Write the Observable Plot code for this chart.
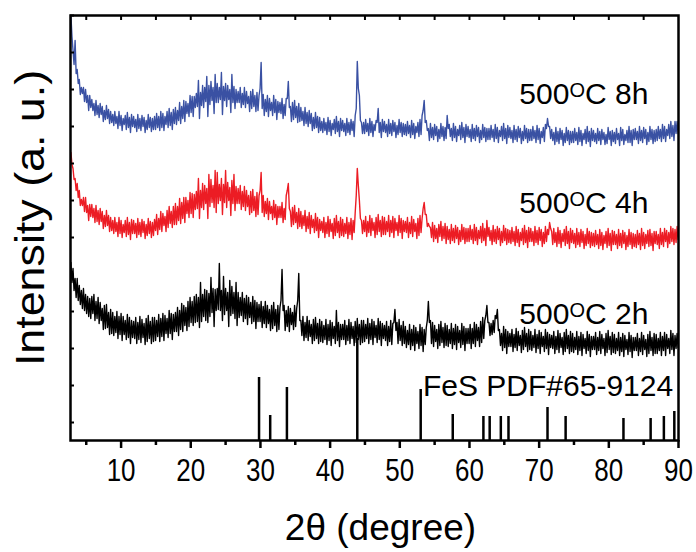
<!DOCTYPE html>
<html><head><meta charset="utf-8">
<script src="https://cdn.jsdelivr.net/npm/d3@7"></script>
<script src="https://cdn.jsdelivr.net/npm/@observablehq/plot@0.6"></script>
<style>body{margin:0;background:#fff}#chart svg{display:block}</style>
</head><body><div id="chart"></div>
<script>
// XRD scan: upper and lower edge of the noise band,
// upper readings at 2.8° + k·0.3°, lower readings half a step later.
const scanStart = 2.8, scanStep = 0.3;

const upper8h = [
425,390,400,371,361,353,353,351,345,345,
341,337,340,335,337,334,330,335,331,329,
326,329,324,329,325,322,325,328,323,326,
324,321,326,322,325,323,320,326,323,322,
324,327,324,329,327,324,329,332,328,331,
333,330,338,334,340,339,337,345,344,344,
347,360,348,355,353,364,355,359,353,366,
357,353,368,354,357,355,351,366,354,351,
349,353,347,353,349,344,349,351,345,348,
345,378,346,341,345,342,338,345,341,339,
338,342,336,342,359,334,338,340,334,337,
333,329,333,328,330,327,323,328,324,323,
319,322,318,323,320,317,321,324,319,322,
320,317,322,318,321,319,325,379,345,318,
318,321,317,322,319,316,320,332,318,321,
319,316,321,317,320,318,315,321,318,317,
316,319,315,320,317,314,318,321,325,340,
320,312,317,313,316,314,311,317,314,313,
325,316,312,317,314,311,315,318,313,316,
314,311,316,312,315,313,310,316,313,312,
312,315,311,316,313,310,314,317,312,315,
313,310,315,311,314,312,309,315,312,311,
311,314,310,315,312,309,313,316,322,314,
311,308,313,309,312,310,307,313,310,309,
309,312,308,313,310,307,311,314,309,312,
310,307,312,309,311,308,306,313,309,310,
308,312,307,313,311,306,310,314,310,311,
312,309,314,310,313,311,308,314,311,310,
311,314,311,316,314,311,316,319,315,319,319];
const lower8h = [
404,376,367,357,346,347,339,338,330,333,
330,325,326,323,326,319,321,322,317,318,
315,317,312,315,310,316,311,313,308,314,
313,309,312,310,314,308,311,313,309,311,
311,313,310,313,310,316,313,315,311,317,
316,320,317,322,319,327,324,328,324,333,
334,322,335,333,339,324,336,340,327,338,
338,341,326,340,334,341,328,338,332,338,
338,333,336,333,337,329,332,334,329,330,
352,332,325,329,324,330,325,328,321,328,
327,322,325,342,333,319,321,323,318,319,
320,315,317,314,317,310,312,313,308,310,
308,310,306,309,305,311,307,309,304,310,
309,305,308,306,310,304,332,352,320,307,
307,309,305,308,304,310,318,308,303,309,
308,304,307,305,309,303,306,308,304,306,
305,307,303,306,302,308,304,306,330,318,
310,300,303,301,305,299,302,304,300,302,
312,304,300,303,299,305,301,303,298,304,
303,299,302,300,304,298,301,303,299,301,
301,303,299,302,298,304,300,302,297,303,
302,298,301,299,303,297,300,302,298,300,
300,302,298,301,297,303,299,312,314,302,
300,296,299,297,301,295,298,300,296,298,
298,300,296,299,295,301,297,299,294,300,
299,297,300,296,301,296,297,301,295,299,
297,301,295,300,296,300,298,298,295,301,
301,297,300,298,302,296,299,301,297,299,
300,302,299,302,299,305,302,304,300,307,307];

const upper4h = [
288,272,262,257,250,241,243,243,235,236,
236,232,235,230,232,229,225,230,225,223,
220,223,218,223,220,216,220,223,218,221,
220,217,222,218,221,219,216,222,219,218,
221,226,222,229,227,224,230,234,229,234,
237,234,242,238,243,243,240,248,247,246,
249,262,250,257,255,252,266,261,255,270,
268,256,262,256,270,258,253,260,266,254,
252,255,249,254,250,245,249,251,244,248,
245,268,245,239,242,239,234,240,236,234,
234,238,232,245,257,229,233,235,228,232,
229,225,230,224,228,225,221,227,223,221,
219,223,218,224,221,217,222,225,219,223,
221,217,223,218,222,220,228,272,240,220,
220,224,219,225,222,218,223,226,220,224,
223,219,225,220,224,222,218,225,222,220,
219,223,218,224,221,217,222,225,222,238,
226,217,213,218,215,212,216,219,214,217,
214,211,216,212,215,213,210,216,213,212,
212,215,211,216,213,210,214,217,212,220,
213,210,215,211,214,212,209,215,212,211,
210,213,209,214,211,208,212,215,210,213,
212,209,214,210,213,211,208,214,211,218,
209,212,208,213,210,207,211,214,209,212,
210,207,212,208,211,209,206,212,209,208,
207,210,206,211,208,205,209,212,207,210,
209,206,211,207,210,208,205,211,208,207,
206,210,207,212,208,206,210,211,207,209,
209,206,212,208,212,210,208,214,212,211,214];
const lower4h = [
276,261,250,243,235,235,229,228,220,224,
223,218,219,216,219,212,214,215,209,210,
207,209,204,207,203,208,204,206,201,207,
207,203,206,204,208,202,205,207,203,205,
210,206,211,209,215,209,213,217,213,216,
216,220,217,222,218,227,223,227,223,231,
232,222,233,231,237,222,234,238,233,228,
237,240,226,238,233,240,225,237,230,237,
237,231,234,230,234,226,228,230,224,226,
250,228,224,227,221,227,221,223,216,223,
223,218,221,250,232,214,216,218,212,214,
212,215,209,212,207,213,208,210,203,210,
208,203,207,204,209,202,205,208,203,205,
204,207,202,206,201,208,245,255,222,207,
209,204,208,205,210,203,206,209,204,206,
206,209,204,208,203,210,205,208,202,209,
208,203,207,204,209,202,205,208,232,226,
214,214,203,199,202,198,204,200,202,197,
201,197,200,198,202,196,199,201,197,199,
199,201,197,200,196,202,198,200,195,204,
200,196,199,197,201,195,198,200,196,198,
197,199,195,198,194,200,196,198,193,199,
199,195,198,196,200,194,197,199,206,212,
196,198,194,197,193,199,195,197,192,198,
197,193,196,194,198,192,195,197,193,195,
194,196,192,195,191,197,193,195,190,196,
196,192,195,193,197,191,194,196,192,194,
193,196,191,195,192,197,194,195,190,197,
196,192,196,194,199,193,197,199,196,198,201];

const upper2h = [
178,172,162,162,155,150,152,146,144,142,
144,146,139,143,138,132,135,136,128,131,
128,124,129,124,127,124,120,126,123,120,
119,123,118,124,121,117,122,125,119,123,
123,120,126,122,127,125,122,130,127,126,
128,133,130,137,135,133,139,143,139,144,
146,143,158,146,151,150,147,163,152,151,
152,177,150,164,152,148,160,154,148,158,
148,143,148,142,145,143,138,144,140,138,
136,139,134,139,135,131,135,138,131,135,
133,171,135,130,134,132,128,135,132,167,
120,124,118,124,120,116,121,123,117,121,
119,115,121,116,120,118,114,130,118,116,
116,120,115,121,118,114,119,122,116,120,
120,116,122,117,121,119,115,122,119,117,
115,119,114,120,117,131,118,121,115,119,
114,110,116,111,115,113,109,116,113,111,
113,139,120,118,115,111,116,119,113,117,
115,111,117,112,116,114,110,117,114,112,
112,116,112,118,116,113,119,123,120,135,
118,117,120,125,131,111,107,114,111,109,
107,111,106,112,109,105,110,113,107,111,
109,105,111,106,110,108,104,111,108,106,
105,109,104,110,107,103,108,111,105,109,
107,103,109,104,108,106,102,109,106,104,
104,108,103,109,106,102,107,110,104,108,
106,102,108,103,107,105,101,108,105,103,
103,107,102,108,105,101,106,109,103,107,
106,102,108,104,108,106,102,110,107,105,107];
const lower2h = [
158,150,143,140,136,132,130,127,124,122,
127,120,122,117,120,111,112,113,106,107,
105,108,102,106,100,106,101,103,97,103,
102,97,101,98,103,96,99,102,97,99,
100,104,99,104,100,107,103,107,101,109,
109,105,111,109,115,110,114,118,115,118,
119,113,119,124,120,118,124,128,114,130,
131,130,120,126,130,114,125,127,122,115,
123,125,119,122,116,123,117,119,112,119,
119,113,117,113,117,110,112,115,109,111,
140,130,110,114,109,116,111,114,140,120,
105,100,103,100,104,97,100,102,97,99,
98,101,96,100,95,102,97,100,94,101,
101,96,100,97,102,95,98,101,96,98,
99,102,97,101,96,103,98,101,95,102,
100,95,99,96,118,110,97,100,95,97,
93,96,91,95,90,97,92,95,89,96,
120,118,97,94,99,92,95,98,93,95,
94,97,92,96,91,98,93,96,90,97,
97,92,97,94,100,94,98,102,125,118,
105,106,108,122,110,95,90,93,87,94,
94,89,93,90,95,88,91,94,89,91,
90,93,88,92,87,94,89,92,86,93,
92,87,91,88,93,86,89,92,87,89,
88,91,86,90,85,92,87,90,84,91,
91,86,90,87,92,85,88,91,86,88,
87,90,85,89,84,91,86,89,83,90,
90,85,89,86,91,84,87,90,85,87,
87,90,85,90,85,92,87,91,85,92,93];

// FeS reference pattern (PDF#65-9124)
const refAngles = [29.8, 31.4, 33.8, 43.9, 53.0, 57.6, 62.0, 62.9, 64.5, 65.6, 71.2, 73.8, 82.1, 86.0, 87.9, 89.4];
const refIntensity = [63, 25, 53, 102, 51, 26, 24, 24, 24, 24, 33, 24, 22, 22, 24, 29];

const sampleNames = ["500ºC 2h", "500ºC 4h", "500ºC 8h"];
const sampleColors = ["#000000", "#EC1C24", "#3A51A3"];
const refName = "FeS PDF#65-9124";
const xTicks = [10, 20, 30, 40, 50, 60, 70, 80, 90];
const xMinorTicks = [5, 15, 25, 35, 45, 55, 65, 75, 85];
const xTopTicks = [5, 10, 15, 20, 25, 30, 35, 40, 45, 50, 55, 60, 65, 70, 75, 80, 85];
const yTicks = [18, 55, 92, 129, 166, 203, 240, 277, 314, 351, 388, 425];
const xTitle = "2θ (degree)";
const yTitle = "Intensity (a. u.)";

const bands = [[upper2h, lower2h], [upper4h, lower4h], [upper8h, lower8h]];
const rows = bands.flatMap(([up, lo], s) => {
  const r = [];
  up.forEach((v, i) => {
    r.push({angle: scanStart + i * scanStep, intensity: v, sample: sampleNames[s]});
    r.push({angle: scanStart + (i + 0.5) * scanStep, intensity: lo[i], sample: sampleNames[s]});
  });
  return r;
});
const refRows = refAngles.map((a, i) => ({angle: a, intensity: refIntensity[i]}));

const font = "'Liberation Sans', Arial, sans-serif";
const plot = Plot.plot({
  width: 696, height: 552,
  marginLeft: 70, marginRight: 18, marginTop: 15, marginBottom: 112,
  style: {fontFamily: font, background: "white", color: "black", overflow: "visible"},
  x: {domain: [2.74, 90], label: null},
  y: {domain: [0, 425], label: null},
  color: {domain: sampleNames, range: sampleColors},
  marks: [
    Plot.ruleX(refRows, {x: "angle", y1: 0, y2: "intensity", stroke: "black", strokeWidth: 2.5}),
    Plot.line(rows, {x: "angle", y: "intensity", z: "sample", stroke: "sample", strokeWidth: 1.4, strokeLinejoin: "round", clip: true}),
    Plot.axisX(xTicks, {tickSize: 8, tickPadding: 10, fontSize: 26, strokeWidth: 2.5}),
    Plot.axisX(xMinorTicks, {tickSize: 5, tickFormat: () => "", strokeWidth: 2.5}),
    Plot.axisX(xTopTicks, {anchor: "top", tickSize: -4, tickFormat: () => "", strokeWidth: 2}),
    Plot.axisY(yTicks, {tickSize: -4, tickFormat: () => "", strokeWidth: 2}),
    Plot.frame({stroke: "black", strokeWidth: 2.5}),
    Plot.text([xTitle], {frameAnchor: "bottom", dx: 6, dy: 88, fontSize: 37, lineAnchor: "middle", textAnchor: "middle", fill: "black"}),
    Plot.text([yTitle], {frameAnchor: "left", rotate: -90, dx: -39, dy: -10, fontSize: 40, lineAnchor: "middle", textAnchor: "middle", fill: "black"}),
    Plot.text(sampleNames, {x: 67.16, y: [117, 228, 337], text: d => d, textAnchor: "start", lineAnchor: "bottom", fontSize: 30, fill: "black"}),
    Plot.text([refName], {x: 53.33, y: 45, text: d => d, textAnchor: "start", lineAnchor: "bottom", fontSize: 30, fill: "black"})
  ]
});

// taller tick-label glyphs as in the original figure
plot.querySelectorAll('g[aria-label="x-axis tick label"] text').forEach(t => {
  t.setAttribute("transform", (t.getAttribute("transform") || "") + " scale(1,1.24)");
});
// stretch y title along its length
plot.querySelectorAll("text").forEach(t => {
  if (t.textContent === yTitle) t.setAttribute("transform", (t.getAttribute("transform") || "") + " scale(1.12,1)");
});
// superscript "o" in the temperature labels
const NS = "http://www.w3.org/2000/svg";
plot.querySelectorAll("text").forEach(t => {
  const s = t.textContent, k = s.indexOf("º");
  if (k < 0) return;
  t.textContent = "";
  const a = document.createElementNS(NS, "tspan"); a.textContent = s.slice(0, k);
  const b = document.createElementNS(NS, "tspan"); b.textContent = "O";
  b.setAttribute("font-size", "20"); b.setAttribute("dy", "-7");
  const c = document.createElementNS(NS, "tspan"); c.textContent = s.slice(k + 1);
  c.setAttribute("dy", "7");
  t.append(a, b, c);
});
document.getElementById("chart").append(plot);
</script>
</body></html>
